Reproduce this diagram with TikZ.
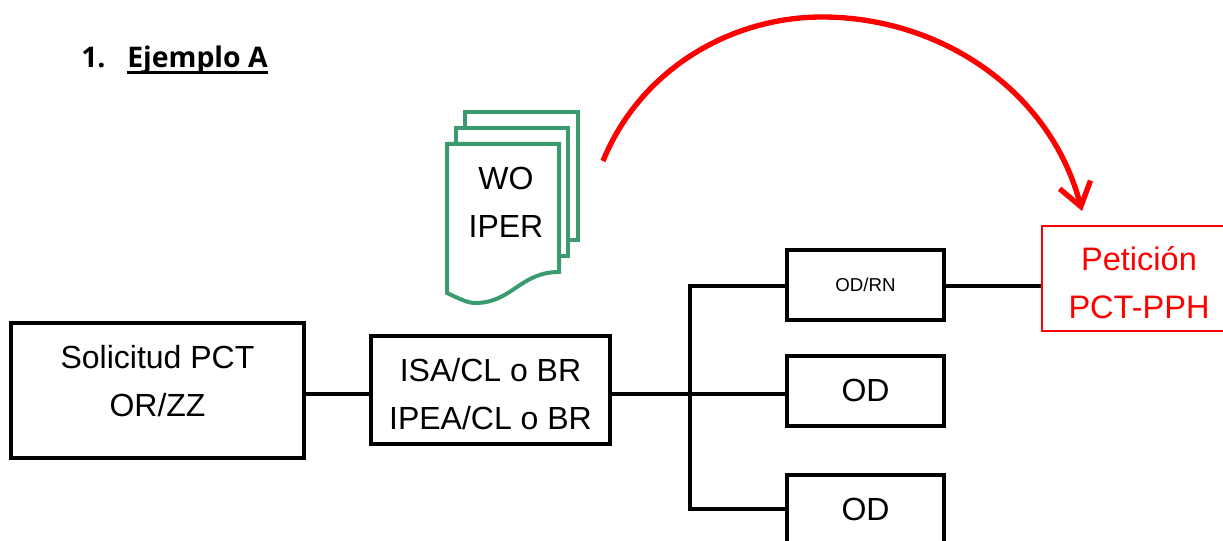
\documentclass[tikz,border=0pt]{standalone}
\usepackage{fontspec}
\setmainfont{Liberation Sans}
\newfontfamily\titlefont{Open Sans}
\usepackage{tikz}
\usetikzlibrary{arrows.meta,positioning,calc}
\usepackage{xcolor}
\definecolor{docgreen}{RGB}{58,155,110}
\definecolor{petred}{RGB}{255,0,0}

\begin{document}
\begin{tikzpicture}[
    x=0.75pt, y=-0.75pt,
    flowbox/.style={rectangle, draw=black, line width=3pt, fill=white, align=center,
        font=\fontsize{24}{36}\selectfont, inner sep=0pt},
    petbox/.style={rectangle, draw=petred, line width=1.5pt, fill=white,
        minimum width=195pt, minimum height=78.75pt},
    boxtext/.style={align=center, font=\fontsize{24}{36}\selectfont},
    titletext/.style={anchor=base west, inner sep=0pt, font=\titlefont\bfseries\fontsize{21.3}{25}\selectfont},
    docpage/.style={draw=docgreen, line width=3pt, fill=white, line join=miter},
    conn/.style={draw=black, line width=3pt},
    bigarc/.style={draw=petred, line width=4pt, -{Straight Barb[length=17pt,width=24pt,line width=4pt]}}
]
    \useasboundingbox (0,0) rectangle (1223,541);

    \node[titletext] (num) at (81,68) {1.};
    \node[titletext] (title) at (127,68) {Ejemplo A};
    \coordinate (ulineleft) at (127,72.5);
    \draw[line width=1.8pt] (ulineleft) -- (ulineleft -| title.east);

    % pages of the stack
    \draw[docpage] (465,240) -- (465,112) -- (578,112) -- (578,240) -- cycle;
    \draw[docpage] (456,256) -- (456,128) -- (568,128) -- (568,256) -- cycle;
    \draw[docpage] (447,293) -- (447,144) -- (559,144) -- (559,272)
        .. controls (520,272) and (512,303) .. (475,303) .. controls (467,303) and (458,298) .. cycle;
    \node[boxtext] (doc) at (506,202) {WO\\IPER};

    \node[flowbox, minimum width=219.75pt, minimum height=101.25pt] (pct) at (157.5,390.5) {};
    \node[boxtext] (pcttext) at (157.5,381) {Solicitud PCT\\OR/ZZ};
    \node[flowbox, minimum width=179.25pt, minimum height=81pt] (isa) at (490.5,390) {};
    \node[boxtext] (isatext) at (490.5,394) {ISA/CL o BR\\IPEA/CL o BR};
    \node[flowbox, minimum width=117.75pt, minimum height=52.5pt, font=\fontsize{14}{16}\selectfont] (odrn) at (865.5,285) {OD/RN};
    \node[flowbox, minimum width=117.75pt, minimum height=52.5pt] (odb) at (865.5,391) {\raisebox{1.5pt}{OD}};
    \node[flowbox, minimum width=117.75pt, minimum height=52.5pt] (odc) at (865.5,510) {\raisebox{0.75pt}{OD}};
    \node[petbox] (pet) at (1172,278.5) {};
    \node[boxtext, font=\fontsize{24.4}{36}\selectfont, text=petred] (pettext) at (1139,283) {Petición\\PCT-PPH};

    \coordinate (trunk) at (690,394);
    \coordinate (trunktop) at (690,286);
    \coordinate (trunkbot) at (690,509);
    \coordinate (arcstart) at (603,161);
    \coordinate (arctop) at (822,17);
    \coordinate (arctip) at (1082,211);

    \draw[conn] (trunk -| pct.east) -- (trunk -| isa.west);
    \draw[conn] (trunk -| isa.east) -- (trunk -| odb.west);
    \draw[conn] (odrn.west |- trunktop) -- (trunktop) -- (trunkbot) -- (odc.west |- trunkbot);
    \draw[conn] (odrn.east |- trunktop) -- (pet.west |- trunktop);

    \draw[bigarc] (arcstart) .. controls (640,70) and (730,17) .. (arctop)
        .. controls (940,17) and (1050,90) .. (arctip);
\end{tikzpicture}
\end{document}
